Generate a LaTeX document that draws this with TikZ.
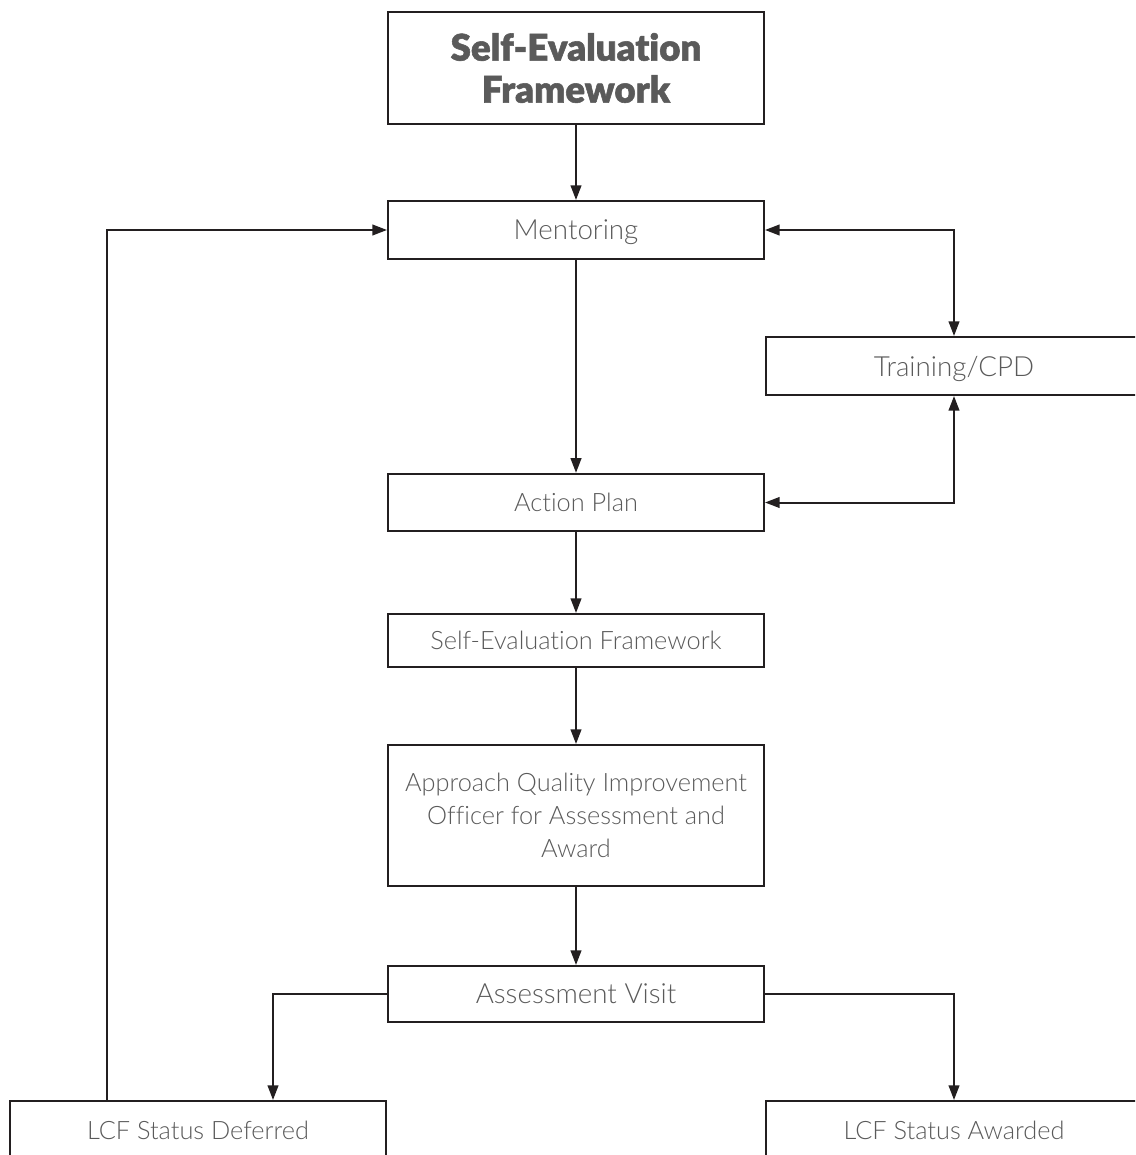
\documentclass[tikz,border=0pt]{standalone}
\usepackage{fontspec}
\setmainfont{Lato}[UprightFont=* Light, BoldFont=* Black, Ligatures=NoCommon]
\newfontfamily\titlefont{Lato}[UprightFont=* Black, FakeBold=1.5, Ligatures=NoCommon]
\usetikzlibrary{arrows.meta}
\definecolor{txt}{HTML}{5A5A5A}
\definecolor{ln}{HTML}{231F20}
\tikzset{
  box/.style={draw=ln, line width=1.5pt, minimum width=282pt, text=txt, align=center, inner sep=2pt, font=\fontsize{19}{24.75}\selectfont},
  one/.style={text depth=0pt},
  big/.style={font=\fontsize{20.8}{25}\selectfont},
  arr/.style={draw=ln, line width=1.5pt, -{Triangle[length=11pt,width=8pt]}},
  darr/.style={draw=ln, line width=1.5pt, {Triangle[length=11pt,width=8pt]}-{Triangle[length=11pt,width=8pt]}}
}
\begin{document}
\begin{tikzpicture}[x=0.75pt,y=-0.75pt]
\useasboundingbox (0,0) rectangle (1135,1155);
\clip (0,0) rectangle (1135,1155);
\node[box, minimum height=84pt, font=\fontsize{27.5}{31.5}\selectfont\titlefont] (title) at (576,68) {Self-Evaluation\\Framework};
\node[box, one, big, minimum height=43.5pt] (ment) at (576,230) {Mentoring};
\node[box, one, big, minimum height=43.5pt] (train) at (954,366) {Training/CPD};
\node[box, one, minimum height=43pt] (act) at (576,502.5) {Action Plan};
\node[box, one, minimum height=39.75pt] (sef) at (576,640.5) {Self-Evaluation Framework};
\node[box, minimum height=105.75pt] (appr) at (576,815.5) {Approach Quality Improvement\\Officer for Assessment and\\Award};
\node[box, one, big, minimum height=42pt] (assess) at (576,994) {Assessment Visit};
\node[box, one, minimum height=43.5pt] (defer) at (198,1130) {LCF Status Deferred};
\node[box, one, minimum height=43.5pt] (award) at (954,1130) {LCF Status Awarded};
\draw[arr] (title) -- (ment);
\draw[darr] (ment.east) -| (train.north);
\draw[darr] (act.east) -| (train.south);
\draw[arr] (ment) -- (act);
\draw[arr] (act) -- (sef);
\draw[arr] (sef) -- (appr);
\draw[arr] (appr) -- (assess);
\draw[arr] (assess.west) -| ([xshift=56.25pt]defer.north);
\draw[arr] (assess.east) -| (award.north);
\draw[arr] ([xshift=-68.25pt]defer.north) |- (ment.west);
\end{tikzpicture}
\end{document}
